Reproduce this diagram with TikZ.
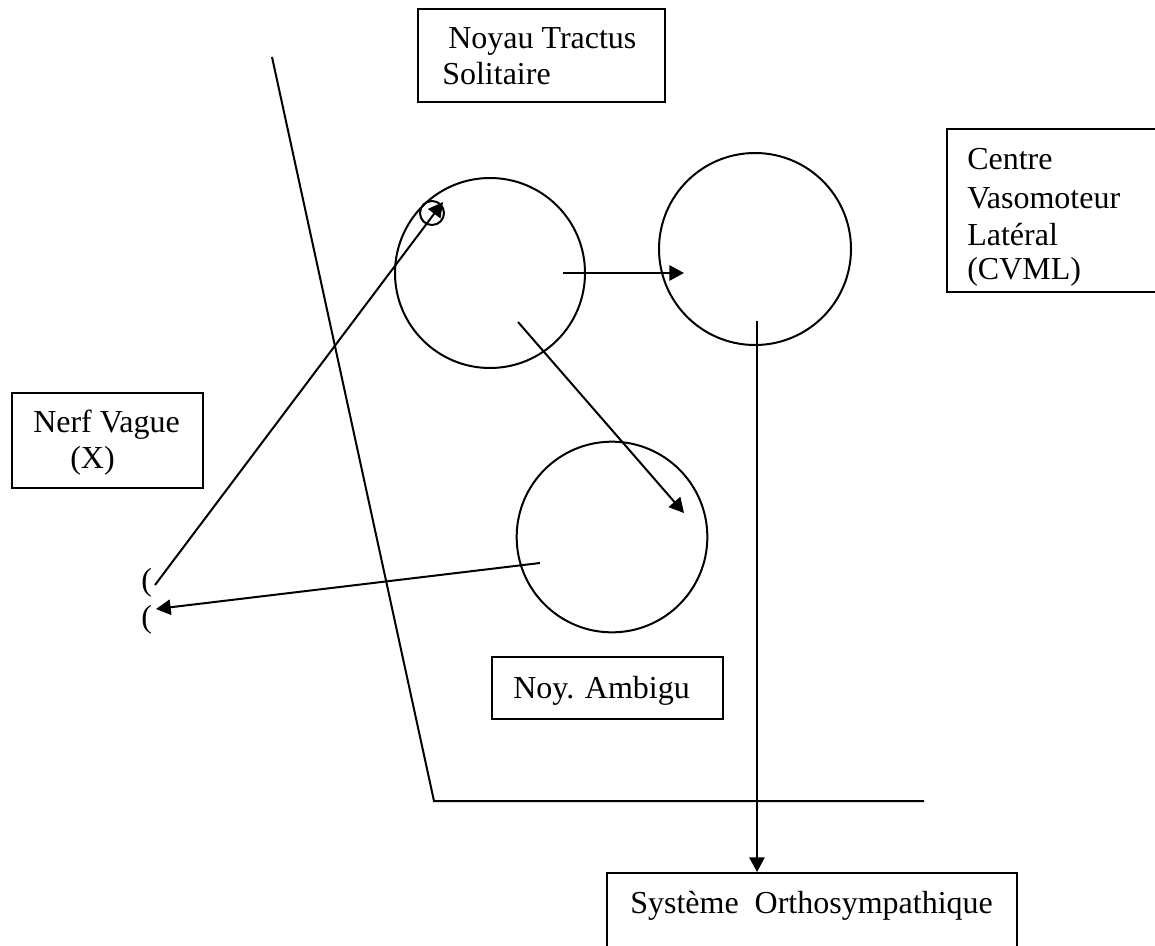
\documentclass[tikz,border=0pt]{standalone}
\usepackage{fontspec}
\setmainfont{Liberation Serif}
\usetikzlibrary{arrows.meta}
\tikzset{
  x=0.75pt, y=-0.75pt,
  boxframe/.style={draw, line width=1.5pt},
  lbl/.style={anchor=base west, inner sep=0pt, font=\fontsize{24}{27.5}\selectfont},
  ring/.style={draw, circle, line width=1.5pt},
  arr/.style={-{Triangle[length=11pt,width=11.5pt]}, line width=1.5pt},
}
\begin{document}
\begin{tikzpicture}
\useasboundingbox (0,0) rectangle (1155,945);
\clip (0,0) rectangle (1155,945);
% boxes
\draw[boxframe] (418,9) rectangle (665,102);
\node[lbl] (nts1) at (448,49) {Noyau Tractus};
\node[lbl] (nts2) at (442,85) {Solitaire};
\draw[boxframe] (947,129) rectangle (1175,292);
\node[lbl] (cv1) at (967,170) {Centre};
\node[lbl] (cv2) at (967,208) {Vasomoteur};
\node[lbl] (cv3) at (967,245) {Latéral};
\node[lbl] (cv4) at (967,279) {(CVML)};
\draw[boxframe] (12,393) rectangle (203,488);
\node[lbl] (nv1) at (33,432) {Nerf Vague};
\node[lbl] (nv2) at (70,468) {(X)};
\draw[boxframe] (492,657) rectangle (723,719);
\node[lbl] (na) at (513,698) {Noy. Ambigu};
\draw[boxframe] (607,873) rectangle (1017,960);
\node[lbl] (so) at (630,913) {Système\hspace{0.5em}Orthosympathique};
\node[lbl] (p1) at (141,590) {(};
\node[lbl] (p2) at (141,627) {(};
% boundary line
\coordinate (b1) at (272,57);
\coordinate (b2) at (434,801);
\coordinate (b3) at (924,801);
\draw[line width=1.5pt] (b1) -- (b2) -- (b3);
% circles
\node[ring, minimum size=142.5pt, inner sep=0pt] (c1) at (490,273) {};
\node[ring, minimum size=144pt, inner sep=0pt] (c2) at (755,249) {};
\node[ring, minimum size=143pt, inner sep=0pt] (c3) at (612,537) {};
\node[ring, minimum size=18pt, inner sep=0pt] (sc) at (432,213) {};
% arrows
\coordinate (a1s) at (155,585);
\coordinate (a1e) at (443,202);
\draw[arr] (a1s) -- (a1e);
\coordinate (a2s) at (540,563);
\coordinate (a2e) at (156,609);
\draw[arr] (a2s) -- (a2e);
\coordinate (a3s) at (563,273);
\coordinate (a3e) at (684,273);
\draw[arr] (a3s) -- (a3e);
\coordinate (a4s) at (518,322);
\coordinate (a4e) at (684,513);
\draw[arr] (a4s) -- (a4e);
\coordinate (a5s) at (757,321);
\coordinate (a5e) at (757,872);
\draw[arr] (a5s) -- (a5e);
\end{tikzpicture}
\end{document}
